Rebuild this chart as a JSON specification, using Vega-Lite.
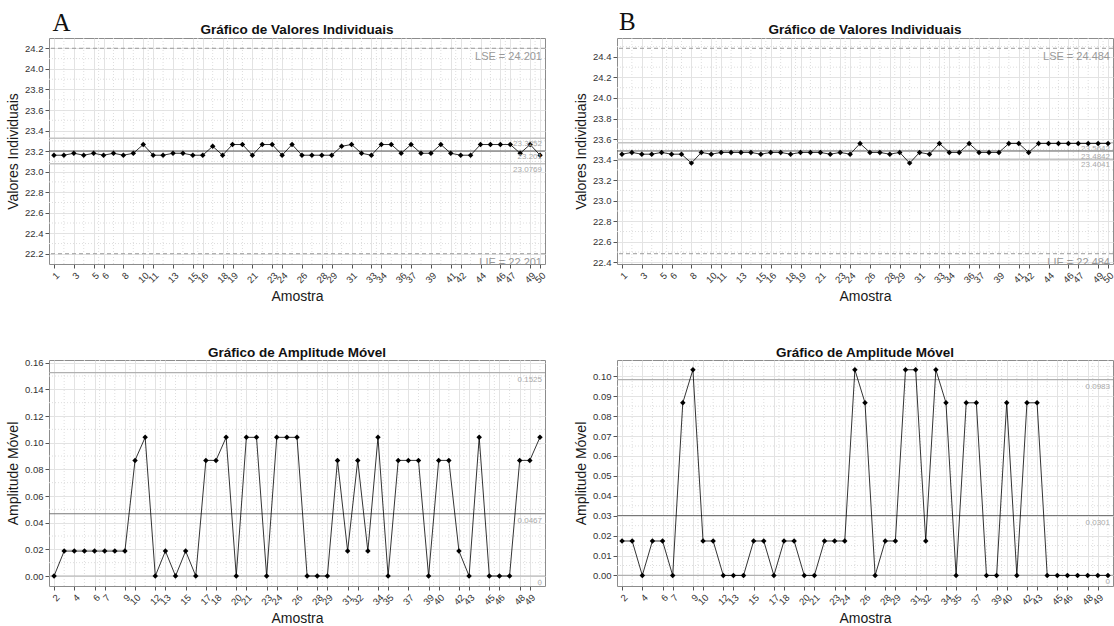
{
  "$schema": "https://vega.github.io/schema/vega-lite/v6.json",
  "padding": {"left": 6, "top": 9, "right": 0, "bottom": 0},
  "background": "white",
  "config": {
    "view": {"stroke": "#8c8c8c", "strokeWidth": 1},
    "axis": {"domain": false, "tickColor": "#555", "tickSize": 4, "tickCount": 100, "labelFont": "Liberation Sans", "labelFontSize": 9.5, "labelColor": "#333", "labelPadding": 2, "labelOverlap": false, "titleFont": "Liberation Sans", "titleFontSize": 14, "titleFontWeight": "normal", "titleColor": "#1a1a1a", "gridColor": "#e3e3e3", "gridWidth": 1, "titlePadding": 4},
    "axisX": {"labelAngle": -45, "labelOverlap": false, "labelFlush": false, "titlePadding": 5},
    "axisY": {"labelOverlap": false}
  },
  "datasets": {
    "ia": [
      {"amostra":1,"valor":23.160},{"amostra":2,"valor":23.160},{"amostra":3,"valor":23.179},{"amostra":4,"valor":23.160},{"amostra":5,"valor":23.179},
      {"amostra":6,"valor":23.160},{"amostra":7,"valor":23.179},{"amostra":8,"valor":23.160},{"amostra":9,"valor":23.179},{"amostra":10,"valor":23.264},
      {"amostra":11,"valor":23.160},{"amostra":12,"valor":23.160},{"amostra":13,"valor":23.179},{"amostra":14,"valor":23.179},{"amostra":15,"valor":23.160},
      {"amostra":16,"valor":23.160},{"amostra":17,"valor":23.247},{"amostra":18,"valor":23.160},{"amostra":19,"valor":23.264},{"amostra":20,"valor":23.264},
      {"amostra":21,"valor":23.160},{"amostra":22,"valor":23.264},{"amostra":23,"valor":23.264},{"amostra":24,"valor":23.160},{"amostra":25,"valor":23.264},
      {"amostra":26,"valor":23.160},{"amostra":27,"valor":23.160},{"amostra":28,"valor":23.160},{"amostra":29,"valor":23.160},{"amostra":30,"valor":23.247},
      {"amostra":31,"valor":23.264},{"amostra":32,"valor":23.179},{"amostra":33,"valor":23.160},{"amostra":34,"valor":23.264},{"amostra":35,"valor":23.264},
      {"amostra":36,"valor":23.179},{"amostra":37,"valor":23.264},{"amostra":38,"valor":23.179},{"amostra":39,"valor":23.179},{"amostra":40,"valor":23.264},
      {"amostra":41,"valor":23.179},{"amostra":42,"valor":23.160},{"amostra":43,"valor":23.160},{"amostra":44,"valor":23.264},{"amostra":45,"valor":23.264},
      {"amostra":46,"valor":23.264},{"amostra":47,"valor":23.264},{"amostra":48,"valor":23.179},{"amostra":49,"valor":23.264},{"amostra":50,"valor":23.160}
    ],
    "ib": [
      {"amostra":1,"valor":23.453},{"amostra":2,"valor":23.470},{"amostra":3,"valor":23.453},{"amostra":4,"valor":23.453},{"amostra":5,"valor":23.470},
      {"amostra":6,"valor":23.453},{"amostra":7,"valor":23.453},{"amostra":8,"valor":23.366},{"amostra":9,"valor":23.470},{"amostra":10,"valor":23.453},
      {"amostra":11,"valor":23.470},{"amostra":12,"valor":23.470},{"amostra":13,"valor":23.470},{"amostra":14,"valor":23.470},{"amostra":15,"valor":23.453},
      {"amostra":16,"valor":23.470},{"amostra":17,"valor":23.470},{"amostra":18,"valor":23.453},{"amostra":19,"valor":23.470},{"amostra":20,"valor":23.470},
      {"amostra":21,"valor":23.470},{"amostra":22,"valor":23.453},{"amostra":23,"valor":23.470},{"amostra":24,"valor":23.453},{"amostra":25,"valor":23.557},
      {"amostra":26,"valor":23.470},{"amostra":27,"valor":23.470},{"amostra":28,"valor":23.453},{"amostra":29,"valor":23.470},{"amostra":30,"valor":23.366},
      {"amostra":31,"valor":23.470},{"amostra":32,"valor":23.453},{"amostra":33,"valor":23.557},{"amostra":34,"valor":23.470},{"amostra":35,"valor":23.470},
      {"amostra":36,"valor":23.557},{"amostra":37,"valor":23.470},{"amostra":38,"valor":23.470},{"amostra":39,"valor":23.470},{"amostra":40,"valor":23.557},
      {"amostra":41,"valor":23.557},{"amostra":42,"valor":23.470},{"amostra":43,"valor":23.557},{"amostra":44,"valor":23.557},{"amostra":45,"valor":23.557},
      {"amostra":46,"valor":23.557},{"amostra":47,"valor":23.557},{"amostra":48,"valor":23.557},{"amostra":49,"valor":23.557},{"amostra":50,"valor":23.557}
    ],
    "ma": [
      {"amostra":2,"amplitude":0},{"amostra":3,"amplitude":0.0187},{"amostra":4,"amplitude":0.0187},{"amostra":5,"amplitude":0.0187},{"amostra":6,"amplitude":0.0187},
      {"amostra":7,"amplitude":0.0187},{"amostra":8,"amplitude":0.0187},{"amostra":9,"amplitude":0.0187},{"amostra":10,"amplitude":0.0867},{"amostra":11,"amplitude":0.104},
      {"amostra":12,"amplitude":0},{"amostra":13,"amplitude":0.0187},{"amostra":14,"amplitude":0},{"amostra":15,"amplitude":0.0187},{"amostra":16,"amplitude":0},
      {"amostra":17,"amplitude":0.0867},{"amostra":18,"amplitude":0.0867},{"amostra":19,"amplitude":0.104},{"amostra":20,"amplitude":0},{"amostra":21,"amplitude":0.104},
      {"amostra":22,"amplitude":0.104},{"amostra":23,"amplitude":0},{"amostra":24,"amplitude":0.104},{"amostra":25,"amplitude":0.104},{"amostra":26,"amplitude":0.104},
      {"amostra":27,"amplitude":0},{"amostra":28,"amplitude":0},{"amostra":29,"amplitude":0},{"amostra":30,"amplitude":0.0867},{"amostra":31,"amplitude":0.0187},
      {"amostra":32,"amplitude":0.0867},{"amostra":33,"amplitude":0.0187},{"amostra":34,"amplitude":0.104},{"amostra":35,"amplitude":0},{"amostra":36,"amplitude":0.0867},
      {"amostra":37,"amplitude":0.0867},{"amostra":38,"amplitude":0.0867},{"amostra":39,"amplitude":0},{"amostra":40,"amplitude":0.0867},{"amostra":41,"amplitude":0.0867},
      {"amostra":42,"amplitude":0.0187},{"amostra":43,"amplitude":0},{"amostra":44,"amplitude":0.104},{"amostra":45,"amplitude":0},{"amostra":46,"amplitude":0},
      {"amostra":47,"amplitude":0},{"amostra":48,"amplitude":0.0867},{"amostra":49,"amplitude":0.0867},{"amostra":50,"amplitude":0.104}
    ],
    "mb": [
      {"amostra":2,"amplitude":0.0173},{"amostra":3,"amplitude":0.0173},{"amostra":4,"amplitude":0},{"amostra":5,"amplitude":0.0173},{"amostra":6,"amplitude":0.0173},
      {"amostra":7,"amplitude":0},{"amostra":8,"amplitude":0.0867},{"amostra":9,"amplitude":0.1033},{"amostra":10,"amplitude":0.0173},{"amostra":11,"amplitude":0.0173},
      {"amostra":12,"amplitude":0},{"amostra":13,"amplitude":0},{"amostra":14,"amplitude":0},{"amostra":15,"amplitude":0.0173},{"amostra":16,"amplitude":0.0173},
      {"amostra":17,"amplitude":0},{"amostra":18,"amplitude":0.0173},{"amostra":19,"amplitude":0.0173},{"amostra":20,"amplitude":0},{"amostra":21,"amplitude":0},
      {"amostra":22,"amplitude":0.0173},{"amostra":23,"amplitude":0.0173},{"amostra":24,"amplitude":0.0173},{"amostra":25,"amplitude":0.1033},{"amostra":26,"amplitude":0.0867},
      {"amostra":27,"amplitude":0},{"amostra":28,"amplitude":0.0173},{"amostra":29,"amplitude":0.0173},{"amostra":30,"amplitude":0.1033},{"amostra":31,"amplitude":0.1033},
      {"amostra":32,"amplitude":0.0173},{"amostra":33,"amplitude":0.1033},{"amostra":34,"amplitude":0.0867},{"amostra":35,"amplitude":0},{"amostra":36,"amplitude":0.0867},
      {"amostra":37,"amplitude":0.0867},{"amostra":38,"amplitude":0},{"amostra":39,"amplitude":0},{"amostra":40,"amplitude":0.0867},{"amostra":41,"amplitude":0},
      {"amostra":42,"amplitude":0.0867},{"amostra":43,"amplitude":0.0867},{"amostra":44,"amplitude":0},{"amostra":45,"amplitude":0},{"amostra":46,"amplitude":0},
      {"amostra":47,"amplitude":0},{"amostra":48,"amplitude":0},{"amostra":49,"amplitude":0},{"amostra":50,"amplitude":0}
    ],
    "lim": [
      {"painel":"IA","tipo":"spec","v":24.201,"rotulo":"LSE = 24.201"},
      {"painel":"IA","tipo":"spec","v":22.201,"rotulo":"LIE = 22.201"},
      {"painel":"IA","tipo":"ctl","v":23.3252,"rotulo":"23.3252"},
      {"painel":"IA","tipo":"cl","v":23.201,"rotulo":"23.201"},
      {"painel":"IA","tipo":"ctl","v":23.0769,"rotulo":"23.0769"},
      {"painel":"IB","tipo":"spec","v":24.484,"rotulo":"LSE = 24.484"},
      {"painel":"IB","tipo":"spec","v":22.484,"rotulo":"LIE = 22.484"},
      {"painel":"IB","tipo":"ctl","v":23.5642,"rotulo":"23.5642"},
      {"painel":"IB","tipo":"cl","v":23.4842,"rotulo":"23.4842"},
      {"painel":"IB","tipo":"ctl","v":23.4041,"rotulo":"23.4041"},
      {"painel":"MA","tipo":"ctl","v":0.1525,"rotulo":"0.1525"},
      {"painel":"MA","tipo":"cl","v":0.0467,"rotulo":"0.0467"},
      {"painel":"MA","tipo":"ctl","v":0,"rotulo":"0"},
      {"painel":"MB","tipo":"ctl","v":0.0983,"rotulo":"0.0983"},
      {"painel":"MB","tipo":"cl","v":0.0301,"rotulo":"0.0301"},
      {"painel":"MB","tipo":"ctl","v":0,"rotulo":"0"}
    ],
    "gxi": [{"v":2},{"v":4},{"v":5.5},{"v":7},{"v":9},{"v":10.5},{"v":12},{"v":14},{"v":15.5},{"v":17},{"v":18.5},{"v":20},{"v":22},{"v":23.5},{"v":25},{"v":27},{"v":28.5},{"v":30},{"v":32},{"v":33.5},{"v":35},{"v":36.5},{"v":38},{"v":40},{"v":41.5},{"v":43},{"v":45},{"v":46.5},{"v":48},{"v":49.5}],
    "gxm": [{"v":3},{"v":5},{"v":6.5},{"v":8},{"v":9.5},{"v":11},{"v":12.5},{"v":14},{"v":16},{"v":17.5},{"v":19},{"v":20.5},{"v":22},{"v":23.5},{"v":25},{"v":27},{"v":28.5},{"v":30},{"v":31.5},{"v":33},{"v":34.5},{"v":36},{"v":38},{"v":39.5},{"v":41},{"v":42.5},{"v":44},{"v":45.5},{"v":47},{"v":48.5},{"v":50}],
    "gyia": [{"v":22.3},{"v":22.5},{"v":22.7},{"v":22.9},{"v":23.1},{"v":23.3},{"v":23.5},{"v":23.7},{"v":23.9},{"v":24.1}],
    "gyib": [{"v":22.5},{"v":22.7},{"v":22.9},{"v":23.1},{"v":23.3},{"v":23.5},{"v":23.7},{"v":23.9},{"v":24.1},{"v":24.3},{"v":24.5}],
    "gyma": [{"v":0.01},{"v":0.03},{"v":0.05},{"v":0.07},{"v":0.09},{"v":0.11},{"v":0.13},{"v":0.15}],
    "gymb": [{"v":0.005},{"v":0.015},{"v":0.025},{"v":0.035},{"v":0.045},{"v":0.055},{"v":0.065},{"v":0.075},{"v":0.085},{"v":0.095},{"v":0.105}]
  },
  "columns": 2,
  "spacing": {"row": 41, "column": 26},
  "concat": [
    {
      "width": 496, "height": 226,
      "layer": [
        {"data": {"name": "gxi"}, "mark": {"type": "rule", "color": "#dedede", "strokeDash": [1, 2]}, "encoding": {"x": {"field": "v", "type": "quantitative", "scale": {"domain": [0.5, 50.5], "nice": false, "zero": false}, "axis": {"title": "Amostra", "values": [1,3,5,6,8,10,11,13,15,16,18,19,21,23,24,26,28,29,31,33,34,36,37,39,41,42,44,46,47,49,50], "format": "d", "tickCount": 100, "labelAngle": -45, "labelOverlap": false, "labelFlush": false, "grid": true}}}},
        {"data": {"name": "gyia"}, "mark": {"type": "rule", "color": "#dedede", "strokeDash": [1, 2]}, "encoding": {"y": {"field": "v", "type": "quantitative", "scale": {"domain": [22.101, 24.301], "nice": false, "zero": false}, "axis": {"title": "Valores Individuais", "values": [22.2,22.4,22.6,22.8,23.0,23.2,23.4,23.6,23.8,24.0,24.2], "tickCount": 100, "format": ".1f", "labelOverlap": false, "grid": true}}}},
        {"data": {"name": "lim"}, "transform": [{"filter": "datum.painel == 'IA' && datum.tipo == 'spec'"}], "mark": {"type": "rule", "color": "#9a9a9a", "strokeDash": [4, 3]}, "encoding": {"y": {"field": "v", "type": "quantitative", "scale": {"domain": [22.101, 24.301], "nice": false, "zero": false}}}},
        {"data": {"name": "lim"}, "transform": [{"filter": "datum.painel == 'IA' && datum.tipo == 'ctl'"}], "mark": {"type": "rule", "color": "#c4c4c4", "strokeWidth": 1.5}, "encoding": {"y": {"field": "v", "type": "quantitative", "scale": {"domain": [22.101, 24.301], "nice": false, "zero": false}}}},
        {"data": {"name": "lim"}, "transform": [{"filter": "datum.painel == 'IA' && datum.tipo == 'cl'"}], "mark": {"type": "rule", "color": "#555555", "strokeWidth": 1}, "encoding": {"y": {"field": "v", "type": "quantitative", "scale": {"domain": [22.101, 24.301], "nice": false, "zero": false}}}},
        {"data": {"name": "ia"}, "mark": {"type": "line", "color": "#000", "strokeWidth": 0.8},
         "encoding": {
           "x": {"field": "amostra", "type": "quantitative", "scale": {"domain": [0.5, 50.5], "nice": false, "zero": false}},
           "y": {"field": "valor", "type": "quantitative", "scale": {"domain": [22.101, 24.301], "nice": false, "zero": false}}
         }},
        {"data": {"name": "ia"}, "mark": {"type": "point", "shape": "diamond", "filled": true, "color": "#000", "size": 30, "opacity": 1},
         "encoding": {
           "x": {"field": "amostra", "type": "quantitative", "scale": {"domain": [0.5, 50.5], "nice": false, "zero": false}},
           "y": {"field": "valor", "type": "quantitative", "scale": {"domain": [22.101, 24.301], "nice": false, "zero": false}}
         }},
        {"data": {"name": "lim"}, "transform": [{"filter": "datum.painel == 'IA' && datum.tipo == 'spec'"}], "mark": {"type": "text", "align": "right", "baseline": "top", "dx": -3, "dy": 3, "font": "Liberation Sans", "fontSize": 11, "color": "#999", "clip": true},
         "encoding": {"x": {"datum": 50.5, "type": "quantitative", "scale": {"domain": [0.5, 50.5], "nice": false, "zero": false}}, "y": {"field": "v", "type": "quantitative", "scale": {"domain": [22.101, 24.301], "nice": false, "zero": false}}, "text": {"field": "rotulo"}}},
        {"data": {"name": "lim"}, "transform": [{"filter": "datum.painel == 'IA' && datum.tipo != 'spec'"}], "mark": {"type": "text", "align": "right", "baseline": "top", "dx": -3, "dy": 2, "font": "Liberation Sans", "fontSize": 8, "color": "#aaa", "clip": true},
         "encoding": {"x": {"datum": 50.5, "type": "quantitative", "scale": {"domain": [0.5, 50.5], "nice": false, "zero": false}}, "y": {"field": "v", "type": "quantitative", "scale": {"domain": [22.101, 24.301], "nice": false, "zero": false}}, "text": {"field": "rotulo"}}},
        {"data": {"values": [{"rotulo": "Gráfico de Valores Individuais"}]}, "mark": {"type": "text", "align": "center", "baseline": "alphabetic", "font": "Liberation Sans", "fontWeight": "bold", "fontSize": 13.5, "color": "#111"},
         "encoding": {"x": {"datum": 25.5, "type": "quantitative", "scale": {"domain": [0.5, 50.5], "nice": false, "zero": false}}, "y": {"datum": 24.34, "type": "quantitative", "scale": {"domain": [22.101, 24.301], "nice": false, "zero": false}}, "text": {"field": "rotulo"}}},
        {"data": {"values": [{"rotulo": "A"}]}, "mark": {"type": "text", "align": "left", "baseline": "alphabetic", "font": "Liberation Serif", "fontSize": 25, "color": "#111"},
         "encoding": {"x": {"datum": 0.85, "type": "quantitative", "scale": {"domain": [0.5, 50.5], "nice": false, "zero": false}}, "y": {"datum": 24.369, "type": "quantitative", "scale": {"domain": [22.101, 24.301], "nice": false, "zero": false}}, "text": {"field": "rotulo"}}}
      ]
    },
    {
      "width": 496, "height": 226,
      "layer": [
        {"data": {"name": "gxi"}, "mark": {"type": "rule", "color": "#dedede", "strokeDash": [1, 2]}, "encoding": {"x": {"field": "v", "type": "quantitative", "scale": {"domain": [0.5, 50.5], "nice": false, "zero": false}, "axis": {"title": "Amostra", "values": [1,3,5,6,8,10,11,13,15,16,18,19,21,23,24,26,28,29,31,33,34,36,37,39,41,42,44,46,47,49,50], "format": "d", "tickCount": 100, "labelAngle": -45, "labelOverlap": false, "labelFlush": false, "grid": true}}}},
        {"data": {"name": "gyib"}, "mark": {"type": "rule", "color": "#dedede", "strokeDash": [1, 2]}, "encoding": {"y": {"field": "v", "type": "quantitative", "scale": {"domain": [22.384, 24.584], "nice": false, "zero": false}, "axis": {"title": "Valores Individuais", "values": [22.4,22.6,22.8,23.0,23.2,23.4,23.6,23.8,24.0,24.2,24.4], "tickCount": 100, "format": ".1f", "labelOverlap": false, "grid": true}}}},
        {"data": {"name": "lim"}, "transform": [{"filter": "datum.painel == 'IB' && datum.tipo == 'spec'"}], "mark": {"type": "rule", "color": "#9a9a9a", "strokeDash": [4, 3]}, "encoding": {"y": {"field": "v", "type": "quantitative", "scale": {"domain": [22.384, 24.584], "nice": false, "zero": false}}}},
        {"data": {"name": "lim"}, "transform": [{"filter": "datum.painel == 'IB' && datum.tipo == 'ctl'"}], "mark": {"type": "rule", "color": "#c4c4c4", "strokeWidth": 1.5}, "encoding": {"y": {"field": "v", "type": "quantitative", "scale": {"domain": [22.384, 24.584], "nice": false, "zero": false}}}},
        {"data": {"name": "lim"}, "transform": [{"filter": "datum.painel == 'IB' && datum.tipo == 'cl'"}], "mark": {"type": "rule", "color": "#555555", "strokeWidth": 1}, "encoding": {"y": {"field": "v", "type": "quantitative", "scale": {"domain": [22.384, 24.584], "nice": false, "zero": false}}}},
        {"data": {"name": "ib"}, "mark": {"type": "line", "color": "#000", "strokeWidth": 0.8},
         "encoding": {
           "x": {"field": "amostra", "type": "quantitative", "scale": {"domain": [0.5, 50.5], "nice": false, "zero": false}},
           "y": {"field": "valor", "type": "quantitative", "scale": {"domain": [22.384, 24.584], "nice": false, "zero": false}}
         }},
        {"data": {"name": "ib"}, "mark": {"type": "point", "shape": "diamond", "filled": true, "color": "#000", "size": 30, "opacity": 1},
         "encoding": {
           "x": {"field": "amostra", "type": "quantitative", "scale": {"domain": [0.5, 50.5], "nice": false, "zero": false}},
           "y": {"field": "valor", "type": "quantitative", "scale": {"domain": [22.384, 24.584], "nice": false, "zero": false}}
         }},
        {"data": {"name": "lim"}, "transform": [{"filter": "datum.painel == 'IB' && datum.tipo == 'spec'"}], "mark": {"type": "text", "align": "right", "baseline": "top", "dx": -3, "dy": 3, "font": "Liberation Sans", "fontSize": 11, "color": "#999", "clip": true},
         "encoding": {"x": {"datum": 50.5, "type": "quantitative", "scale": {"domain": [0.5, 50.5], "nice": false, "zero": false}}, "y": {"field": "v", "type": "quantitative", "scale": {"domain": [22.384, 24.584], "nice": false, "zero": false}}, "text": {"field": "rotulo"}}},
        {"data": {"name": "lim"}, "transform": [{"filter": "datum.painel == 'IB' && datum.tipo != 'spec'"}], "mark": {"type": "text", "align": "right", "baseline": "top", "dx": -3, "dy": 2, "font": "Liberation Sans", "fontSize": 8, "color": "#aaa", "clip": true},
         "encoding": {"x": {"datum": 50.5, "type": "quantitative", "scale": {"domain": [0.5, 50.5], "nice": false, "zero": false}}, "y": {"field": "v", "type": "quantitative", "scale": {"domain": [22.384, 24.584], "nice": false, "zero": false}}, "text": {"field": "rotulo"}}},
        {"data": {"values": [{"rotulo": "Gráfico de Valores Individuais"}]}, "mark": {"type": "text", "align": "center", "baseline": "alphabetic", "font": "Liberation Sans", "fontWeight": "bold", "fontSize": 13.5, "color": "#111"},
         "encoding": {"x": {"datum": 25.5, "type": "quantitative", "scale": {"domain": [0.5, 50.5], "nice": false, "zero": false}}, "y": {"datum": 24.625, "type": "quantitative", "scale": {"domain": [22.384, 24.584], "nice": false, "zero": false}}, "text": {"field": "rotulo"}}},
        {"data": {"values": [{"rotulo": "B"}]}, "mark": {"type": "text", "align": "left", "baseline": "alphabetic", "font": "Liberation Serif", "fontSize": 25, "color": "#111"},
         "encoding": {"x": {"datum": 0.7, "type": "quantitative", "scale": {"domain": [0.5, 50.5], "nice": false, "zero": false}}, "y": {"datum": 24.66, "type": "quantitative", "scale": {"domain": [22.384, 24.584], "nice": false, "zero": false}}, "text": {"field": "rotulo"}}}
      ]
    },
    {
      "width": 496, "height": 226,
      "layer": [
        {"data": {"name": "gxm"}, "mark": {"type": "rule", "color": "#dedede", "strokeDash": [1, 2]}, "encoding": {"x": {"field": "v", "type": "quantitative", "scale": {"domain": [1.5, 50.5], "nice": false, "zero": false}, "axis": {"title": "Amostra", "values": [2,4,6,7,9,10,12,13,15,17,18,20,21,23,24,26,28,29,31,32,34,35,37,39,40,42,43,45,46,48,49], "format": "d", "tickCount": 100, "labelAngle": -45, "labelOverlap": false, "labelFlush": false, "grid": true}}}},
        {"data": {"name": "gyma"}, "mark": {"type": "rule", "color": "#dedede", "strokeDash": [1, 2]}, "encoding": {"y": {"field": "v", "type": "quantitative", "scale": {"domain": [-0.0075, 0.162], "nice": false, "zero": false}, "axis": {"title": "Amplitude Móvel", "values": [0,0.02,0.04,0.06,0.08,0.10,0.12,0.14,0.16], "tickCount": 100, "format": ".2f", "labelOverlap": false, "grid": true}}}},
        {"data": {"name": "lim"}, "transform": [{"filter": "datum.painel == 'MA' && datum.tipo == 'ctl'"}], "mark": {"type": "rule", "color": "#b0b0b0", "strokeWidth": 1.2}, "encoding": {"y": {"field": "v", "type": "quantitative", "scale": {"domain": [-0.0075, 0.162], "nice": false, "zero": false}}}},
        {"data": {"name": "lim"}, "transform": [{"filter": "datum.painel == 'MA' && datum.tipo == 'cl'"}], "mark": {"type": "rule", "color": "#777777", "strokeWidth": 1.2}, "encoding": {"y": {"field": "v", "type": "quantitative", "scale": {"domain": [-0.0075, 0.162], "nice": false, "zero": false}}}},
        {"data": {"name": "ma"}, "mark": {"type": "line", "color": "#000", "strokeWidth": 0.8},
         "encoding": {
           "x": {"field": "amostra", "type": "quantitative", "scale": {"domain": [1.5, 50.5], "nice": false, "zero": false}},
           "y": {"field": "amplitude", "type": "quantitative", "scale": {"domain": [-0.0075, 0.162], "nice": false, "zero": false}}
         }},
        {"data": {"name": "ma"}, "mark": {"type": "point", "shape": "diamond", "filled": true, "color": "#000", "size": 30, "opacity": 1},
         "encoding": {
           "x": {"field": "amostra", "type": "quantitative", "scale": {"domain": [1.5, 50.5], "nice": false, "zero": false}},
           "y": {"field": "amplitude", "type": "quantitative", "scale": {"domain": [-0.0075, 0.162], "nice": false, "zero": false}}
         }},
        {"data": {"name": "lim"}, "transform": [{"filter": "datum.painel == 'MA'"}], "mark": {"type": "text", "align": "right", "baseline": "top", "dx": -3, "dy": 3, "font": "Liberation Sans", "fontSize": 8, "color": "#aaa", "clip": true},
         "encoding": {"x": {"datum": 50.5, "type": "quantitative", "scale": {"domain": [1.5, 50.5], "nice": false, "zero": false}}, "y": {"field": "v", "type": "quantitative", "scale": {"domain": [-0.0075, 0.162], "nice": false, "zero": false}}, "text": {"field": "rotulo"}}},
        {"data": {"values": [{"rotulo": "Gráfico de Amplitude Móvel"}]}, "mark": {"type": "text", "align": "center", "baseline": "alphabetic", "font": "Liberation Sans", "fontWeight": "bold", "fontSize": 13.5, "color": "#111"},
         "encoding": {"x": {"datum": 26, "type": "quantitative", "scale": {"domain": [1.5, 50.5], "nice": false, "zero": false}}, "y": {"datum": 0.1643, "type": "quantitative", "scale": {"domain": [-0.0075, 0.162], "nice": false, "zero": false}}, "text": {"field": "rotulo"}}}
      ]
    },
    {
      "width": 496, "height": 226,
      "layer": [
        {"data": {"name": "gxm"}, "mark": {"type": "rule", "color": "#dedede", "strokeDash": [1, 2]}, "encoding": {"x": {"field": "v", "type": "quantitative", "scale": {"domain": [1.5, 50.5], "nice": false, "zero": false}, "axis": {"title": "Amostra", "values": [2,4,6,7,9,10,12,13,15,17,18,20,21,23,24,26,28,29,31,32,34,35,37,39,40,42,43,45,46,48,49], "format": "d", "tickCount": 100, "labelAngle": -45, "labelOverlap": false, "labelFlush": false, "grid": true}}}},
        {"data": {"name": "gymb"}, "mark": {"type": "rule", "color": "#dedede", "strokeDash": [1, 2]}, "encoding": {"y": {"field": "v", "type": "quantitative", "scale": {"domain": [-0.0053, 0.1082], "nice": false, "zero": false}, "axis": {"title": "Amplitude Móvel", "values": [0,0.01,0.02,0.03,0.04,0.05,0.06,0.07,0.08,0.09,0.10], "tickCount": 100, "format": ".2f", "labelOverlap": false, "grid": true}}}},
        {"data": {"name": "lim"}, "transform": [{"filter": "datum.painel == 'MB' && datum.tipo == 'ctl'"}], "mark": {"type": "rule", "color": "#b0b0b0", "strokeWidth": 1.2}, "encoding": {"y": {"field": "v", "type": "quantitative", "scale": {"domain": [-0.0053, 0.1082], "nice": false, "zero": false}}}},
        {"data": {"name": "lim"}, "transform": [{"filter": "datum.painel == 'MB' && datum.tipo == 'cl'"}], "mark": {"type": "rule", "color": "#777777", "strokeWidth": 1.2}, "encoding": {"y": {"field": "v", "type": "quantitative", "scale": {"domain": [-0.0053, 0.1082], "nice": false, "zero": false}}}},
        {"data": {"name": "mb"}, "mark": {"type": "line", "color": "#000", "strokeWidth": 0.8},
         "encoding": {
           "x": {"field": "amostra", "type": "quantitative", "scale": {"domain": [1.5, 50.5], "nice": false, "zero": false}},
           "y": {"field": "amplitude", "type": "quantitative", "scale": {"domain": [-0.0053, 0.1082], "nice": false, "zero": false}}
         }},
        {"data": {"name": "mb"}, "mark": {"type": "point", "shape": "diamond", "filled": true, "color": "#000", "size": 30, "opacity": 1},
         "encoding": {
           "x": {"field": "amostra", "type": "quantitative", "scale": {"domain": [1.5, 50.5], "nice": false, "zero": false}},
           "y": {"field": "amplitude", "type": "quantitative", "scale": {"domain": [-0.0053, 0.1082], "nice": false, "zero": false}}
         }},
        {"data": {"name": "lim"}, "transform": [{"filter": "datum.painel == 'MB'"}], "mark": {"type": "text", "align": "right", "baseline": "top", "dx": -3, "dy": 3, "font": "Liberation Sans", "fontSize": 8, "color": "#aaa", "clip": true},
         "encoding": {"x": {"datum": 50.5, "type": "quantitative", "scale": {"domain": [1.5, 50.5], "nice": false, "zero": false}}, "y": {"field": "v", "type": "quantitative", "scale": {"domain": [-0.0053, 0.1082], "nice": false, "zero": false}}, "text": {"field": "rotulo"}}},
        {"data": {"values": [{"rotulo": "Gráfico de Amplitude Móvel"}]}, "mark": {"type": "text", "align": "center", "baseline": "alphabetic", "font": "Liberation Sans", "fontWeight": "bold", "fontSize": 13.5, "color": "#111"},
         "encoding": {"x": {"datum": 26, "type": "quantitative", "scale": {"domain": [1.5, 50.5], "nice": false, "zero": false}}, "y": {"datum": 0.1097, "type": "quantitative", "scale": {"domain": [-0.0053, 0.1082], "nice": false, "zero": false}}, "text": {"field": "rotulo"}}}
      ]
    }
  ]
}
